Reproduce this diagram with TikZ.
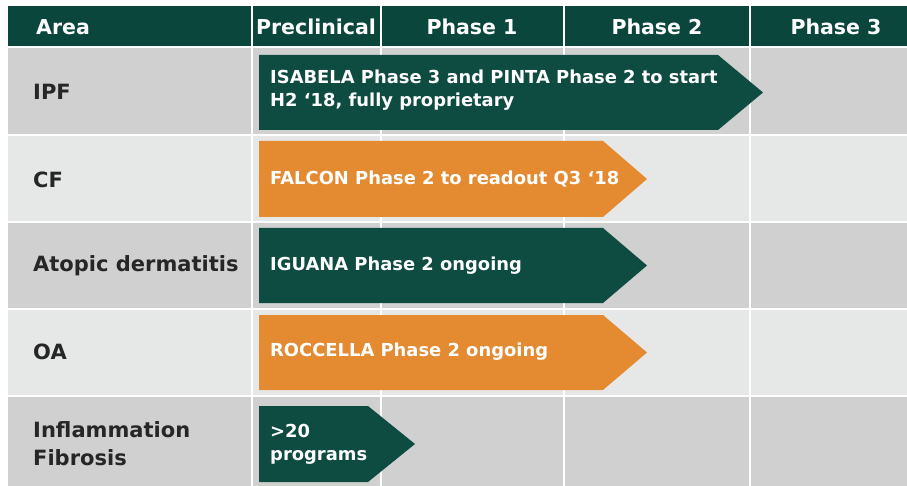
\documentclass[tikz,border=0pt]{standalone}
\usepackage{fontspec}
\setmainfont{DejaVu Sans}
\definecolor{hdr}{HTML}{0B463D}
\definecolor{dkg}{HTML}{0E4B41}
\definecolor{org}{HTML}{E48A31}
\definecolor{rowd}{HTML}{CFD0CF}
\definecolor{rowl}{HTML}{E6E8E7}
\definecolor{lbl}{HTML}{262626}
\tikzset{
  hdrtext/.style={text=white,font=\bfseries\fontsize{20.5}{24}\selectfont,inner sep=0pt},
  areatext/.style={text=lbl,font=\bfseries\fontsize{21}{28}\selectfont,anchor=west,align=left,inner sep=0pt},
  arrtext/.style={text=white,font=\bfseries\fontsize{17.9}{23}\selectfont,anchor=west,align=left,inner sep=0pt},
}
\begin{document}
\begin{tikzpicture}[x=1pt,y=-1pt]
\useasboundingbox (0,0) rectangle (907,486);
\fill[white] (0,0) rectangle (907,486);
% header
\fill[hdr] (8,6) rectangle (907,46);
% rows
\fill[rowd] (8,48) rectangle (907,134);
\fill[rowl] (8,136) rectangle (907,221);
\fill[rowd] (8,223) rectangle (907,308);
\fill[rowl] (8,310) rectangle (907,395);
\fill[rowd] (8,397) rectangle (907,486);
% column separators
\foreach \x in {252,381,564,750} \draw[white,line width=1.5pt] (\x,6) -- (\x,486);
% header text
\node[hdrtext,anchor=west] (hA) at (36,27) {Area};
\node[hdrtext] (hP) at (316,27) {Preclinical};
\node[hdrtext] (h1) at (472,27) {Phase 1};
\node[hdrtext] (h2) at (657,27) {Phase 2};
\node[hdrtext] (h3) at (836,27) {Phase 3};
% area labels
\node[areatext] (a1) at (33,92) {IPF};
\node[areatext] (a2) at (33,180) {CF};
\node[areatext] (a3) at (33,266) {Atopic dermatitis};
\node[areatext] (a4) at (33,352) {OA};
\node[areatext] (a5) at (33,444) {Inflammation\\Fibrosis};
% arrows
\fill[dkg] (259,55) -- (718,55) -- (763,92.5) -- (718,130) -- (259,130) -- cycle;
\fill[org] (259,141) -- (603,141) -- (647,179) -- (603,217) -- (259,217) -- cycle;
\fill[dkg] (259,228) -- (603,228) -- (647,265.5) -- (603,303) -- (259,303) -- cycle;
\fill[org] (259,315) -- (603,315) -- (647,352.5) -- (603,390) -- (259,390) -- cycle;
\fill[dkg] (259,406) -- (368,406) -- (415,444) -- (368,482) -- (259,482) -- cycle;
% arrow text
\node[arrtext] (t1) at (270,90) {ISABELA Phase 3 and PINTA Phase 2 to start\\H2 `18, fully proprietary};
\node[arrtext] (t2) at (270,179) {FALCON Phase 2 to readout Q3 `18};
\node[arrtext] (t3) at (270,266) {IGUANA Phase 2 ongoing};
\node[arrtext] (t4) at (270,352) {ROCCELLA Phase 2 ongoing};
\node[arrtext] (t5) at (270,444) {>20\\programs};
\end{tikzpicture}
\end{document}
